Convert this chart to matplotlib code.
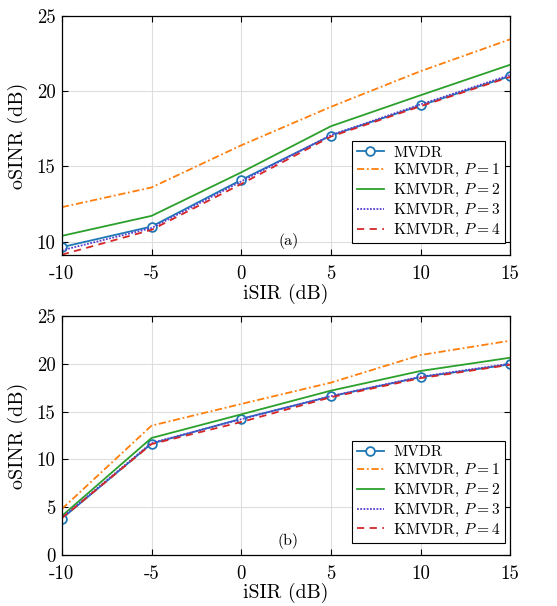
import numpy as np
import matplotlib
matplotlib.use('Agg')
import matplotlib.pyplot as plt

plt.rcParams['font.family'] = 'serif'
plt.rcParams['font.serif'] = ['cmr10']
plt.rcParams['mathtext.fontset'] = 'cm'
plt.rcParams['axes.unicode_minus'] = False

isir = [-10, -5, 0, 5, 10, 15]

# (a)
mvdr_a = [9.63, 11.0, 14.1, 17.05, 19.05, 21.0]
p1_a = [12.29, 13.6, 16.4, 18.96, 21.33, 23.45]
p2_a = [10.38, 11.71, 14.6, 17.67, 19.73, 21.76]
p3_a = [9.42, 10.9, 14.0, 17.08, 19.12, 21.08]
p4_a = [9.13, 10.78, 13.83, 16.98, 19.0, 20.95]

# (b)
mvdr_b = [3.8, 11.65, 14.25, 16.6, 18.6, 19.95]
p1_b = [4.81, 13.53, 15.8, 18.03, 20.92, 22.42]
p2_b = [4.08, 12.24, 14.71, 17.19, 19.25, 20.64]
p3_b = [3.9, 11.72, 14.2, 16.62, 18.65, 20.02]
p4_b = [3.85, 11.6, 13.91, 16.5, 18.5, 19.9]

labels = ['MVDR', r'KMVDR, $P=1$', r'KMVDR, $P=2$',
          r'KMVDR, $P=3$', r'KMVDR, $P=4$']
colors = ['#1f77b4', '#ff7f0e', '#2ca02c', '#5a3fcf', '#d62728']
styles = ['-', (0, (4, 1.5, 1, 1.5)), '-', (0, (1, 0.8)), (0, (4, 3))]

fig = plt.figure(figsize=(5.57, 6.06), dpi=100)
ax1 = fig.add_axes([0.111, 0.579, 0.805, 0.3946])
ax2 = fig.add_axes([0.111, 0.0842, 0.805, 0.3943])


def draw(ax, series, ylim, yticks, tag):
    for i, (y, lab) in enumerate(zip(series, labels)):
        kw = dict(color=colors[i], linestyle=styles[i], lw=1.3, label=lab)
        if i == 0:
            kw.update(marker='o', markersize=6.3, markerfacecolor='white',
                      markeredgewidth=1.3)
        ax.plot(isir, y, **kw)
    ax.set_xlim(-10, 15)
    ax.set_ylim(*ylim)
    ax.set_xticks(isir)
    ax.set_xticklabels([str(v) for v in isir])
    ax.set_yticks(yticks)
    ax.set_yticklabels([str(v) for v in yticks])
    ax.grid(True, color='#dedede', lw=0.8)
    ax.set_axisbelow(True)
    ax.tick_params(direction='in', top=True, right=True, labelsize=13.5,
                   length=4, width=0.8)
    ax.tick_params(axis='x', pad=7.5)
    ax.tick_params(axis='y', pad=4.5)
    for s in ax.spines.values():
        s.set_linewidth(0.9)
    ax.set_xlabel('iSIR (dB)', fontsize=14.3, labelpad=0)
    ax.set_ylabel('oSINR (dB)', fontsize=14.5, labelpad=6)
    ax.text(0.505, 0.06, tag, transform=ax.transAxes, fontsize=11.5,
            ha='center', va='center')
    leg = ax.legend(loc='lower right', bbox_to_anchor=(0.989, 0.049),
                    borderaxespad=0, fontsize=11.2, fancybox=False,
                    edgecolor='black', framealpha=1, handlelength=1.75,
                    labelspacing=0.18, borderpad=0.28, handletextpad=0.6)
    leg.get_frame().set_linewidth(0.8)


draw(ax1, [mvdr_a, p1_a, p2_a, p3_a, p4_a], (9.1, 25), [10, 15, 20, 25], '(a)')
draw(ax2, [mvdr_b, p1_b, p2_b, p3_b, p4_b], (0, 25), [0, 5, 10, 15, 20, 25], '(b)')

fig.savefig('out.png', dpi=100)
